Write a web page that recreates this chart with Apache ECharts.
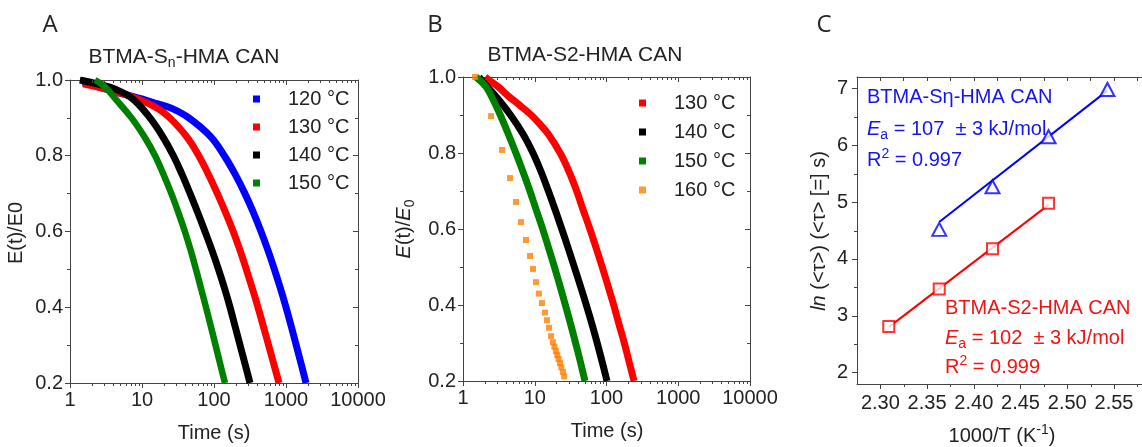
<!DOCTYPE html>
<html><head><meta charset="utf-8">
<script src="https://cdn.jsdelivr.net/npm/echarts@6/dist/echarts.min.js"></script>
<style>html,body{margin:0;padding:0;background:#fff}#c{width:1142px;height:447px}</style>
</head><body><div id="c"></div>
<script>
const F = "'Liberation Sans', Arial, Helvetica, sans-serif";

// ---- Panel A: BTMA-Sn-HMA CAN  (time in s, E(t)/E0)
const tA120 = [1.515, 3.24, 5.68, 9.94, 16.1, 25.9, 44.7, 90.3, 139, 198, 269, 353, 450, 562, 690, 836, 1000, 1181, 1386, 1626, 1896];
const eA120 = [0.995, 0.975, 0.9625, 0.95, 0.9375, 0.925, 0.9, 0.85, 0.8, 0.75, 0.7, 0.65, 0.6, 0.55, 0.5, 0.45, 0.4, 0.35, 0.3, 0.25, 0.2];
const tA130 = [1.515, 3.35, 8.74, 16.6, 24.3, 41.9, 61.5, 84.1, 111.5, 145, 185, 230, 281, 340, 408, 484, 573, 677, 800];
const eA130 = [0.99, 0.975, 0.95, 0.925, 0.9, 0.85, 0.8, 0.75, 0.7, 0.65, 0.6, 0.55, 0.5, 0.45, 0.4, 0.35, 0.3, 0.25, 0.2];
const tA140 = [1.37, 2.37, 4.34, 7.47, 12.9, 19.5, 27.3, 36.1, 46.6, 59.4, 75.0, 93.8, 115.5, 140, 167, 196, 230, 270, 316];
const eA140 = [1.0, 0.99, 0.975, 0.95, 0.9, 0.85, 0.8, 0.75, 0.7, 0.65, 0.6, 0.55, 0.5, 0.45, 0.4, 0.35, 0.3, 0.25, 0.2];
const tA150 = [2.22, 2.70, 3.32, 4.28, 7.15, 10.8, 15.2, 19.95, 25.6, 32.0, 39.4, 47.5, 56.2, 66.0, 77.4, 90.3, 105, 122, 142];
const eA150 = [1.0, 0.99, 0.975, 0.95, 0.9, 0.85, 0.8, 0.75, 0.7, 0.65, 0.6, 0.55, 0.5, 0.45, 0.4, 0.35, 0.3, 0.25, 0.2];

// ---- Panel B: BTMA-S2-HMA CAN
const tB130 = [2.03, 2.38, 3.07, 4.27, 6.23, 8.92, 11.8, 15.4, 22.6, 30.2, 38.4, 47.3, 58.7, 71.8, 87.1, 105, 126, 149, 177, 207, 242];
const eB130 = [1.0, 0.99, 0.975, 0.95, 0.925, 0.9, 0.876, 0.85, 0.8, 0.75, 0.7, 0.65, 0.6, 0.55, 0.5, 0.45, 0.4, 0.35, 0.3, 0.25, 0.2];
const tB140 = [1.67, 2.16, 2.84, 4.59, 6.86, 9.45, 12.3, 15.5, 19.3, 23.8, 29.2, 35.6, 43.3, 52.3, 62.6, 74.2, 87.1, 101.6];
const eB140 = [1.0, 0.975, 0.95, 0.9, 0.85, 0.8, 0.75, 0.7, 0.65, 0.6, 0.55, 0.5, 0.45, 0.4, 0.35, 0.3, 0.25, 0.2];
const tB150 = [1.52, 2.08, 2.48, 3.31, 4.28, 5.46, 6.88, 8.56, 10.5, 12.9, 15.6, 18.8, 22.5, 26.7, 31.6, 37.1, 43.3, 50.1];
const eB150 = [1.0, 0.975, 0.95, 0.9, 0.85, 0.8, 0.75, 0.7, 0.65, 0.6, 0.55, 0.5, 0.45, 0.4, 0.35, 0.3, 0.25, 0.2];
const tB160 = [1.47, 2.46, 3.5, 4.52, 5.48, 6.43, 7.55, 8.6, 9.45, 10.4, 11.4, 12.6, 13.9, 14.8, 15.8, 16.9, 17.9, 18.8, 19.7, 20.6, 21.5, 22.5, 23.5, 24.7, 25.7];
const eB160 = [1.0, 0.897, 0.808, 0.734, 0.671, 0.618, 0.571, 0.529, 0.495, 0.46, 0.43, 0.405, 0.38, 0.36, 0.34, 0.318, 0.302, 0.29, 0.279, 0.268, 0.258, 0.247, 0.236, 0.224, 0.212];

// ---- Panel C: Arrhenius plot
const cSnX = [2.363, 2.420, 2.480, 2.543];
const cSnY = [4.52, 5.27, 6.15, 6.98];
const cSnFitX = [2.363, 2.543];
const cSnFitY = [4.65, 6.96];
const cS2X = [2.309, 2.363, 2.420, 2.480];
const cS2Y = [2.81, 3.47, 4.18, 4.98];
const cS2FitX = [2.309, 2.480];
const cS2FitY = [2.80, 4.95];

// tick labels / positions
const cXMajor = [2.30, 2.35, 2.40, 2.45, 2.50, 2.55];
const cXMinor = [2.325, 2.375, 2.425, 2.475, 2.525, 2.575];
const cXTop = [2.30, 2.325, 2.35, 2.375, 2.40, 2.425, 2.45, 2.475, 2.50, 2.525, 2.55, 2.575];
const cYMajor = [2, 3, 4, 5, 6, 7];
const cYMinor = [2.5, 3.5, 4.5, 5.5, 6.5];
const logMinor = [];
[1, 10, 100, 1000].forEach(d => { for (let k = 2; k <= 9; k++) logMinor.push(d * k); });

const AX = '#444', TX = '#222';
const lbl = {fontSize: 20, fontFamily: F, color: TX};

function logX(gi, pos) {
  const top = pos === 'top';
  return {type: 'log', logBase: 10, gridIndex: gi, min: 1, max: 10000, position: pos, splitNumber: 4,
    axisLine: {show: true, lineStyle: {color: AX, width: 1}},
    axisTick: {show: true, inside: top, length: 5, lineStyle: {color: AX}},
    axisLabel: Object.assign({show: !top, margin: 7, formatter: v => String(Math.round(v))}, lbl),
    splitLine: {show: false}, minorTick: {show: false}, minorSplitLine: {show: false}};
}
function valY(gi, pos) {
  const right = pos === 'right';
  return {type: 'value', gridIndex: gi, min: 0.2, max: 1.0, interval: 0.2, position: pos,
    axisLine: {show: true, lineStyle: {color: AX, width: 1}},
    axisTick: {show: true, inside: right, length: 5, lineStyle: {color: AX}},
    minorTick: {show: true, splitNumber: 2, length: 3, lineStyle: {color: AX}},
    axisLabel: Object.assign({show: !right, margin: 7, formatter: v => v.toFixed(1)}, lbl),
    splitLine: {show: false}, minorSplitLine: {show: false}};
}

function band(name, t, e, color, gi, w) {
  return {type: 'line', name, xAxisIndex: gi * 2, yAxisIndex: gi * 2,
    data: t.map((v, i) => [v, e[i]]), symbol: 'none', showSymbol: false,
    smooth: 0.4,
    color, itemStyle: {color}, lineStyle: {color, width: w, cap: 'butt', join: 'round'},
    silent: true, z: 2};
}

// minor tick drawer through the axes' own scales
function tickSeries(gi, items, ext) {
  return {type: 'custom', xAxisIndex: gi * 2, yAxisIndex: gi * 2, clip: false, silent: true, z: 6,
    data: items,
    renderItem(params, api) {
      const v = api.value(0), k = api.value(1), L = 3;
      const st = {stroke: AX, lineWidth: 1};
      const ch = [];
      if (k === 0 || k === 1) {
        const b = api.coord([v, ext.y0]), t = api.coord([v, ext.y1]);
        const px = Math.round(b[0]) + 0.5;
        ch.push({type: 'line', shape: {x1: px, y1: b[1], x2: px, y2: b[1] + L}, style: st});
        if (k === 0) ch.push({type: 'line', shape: {x1: px, y1: t[1], x2: px, y2: t[1] + L}, style: st});
      } else {
        const l = api.coord([ext.x0, v]);
        const py = Math.round(l[1]) + 0.5;
        ch.push({type: 'line', shape: {x1: l[0], y1: py, x2: l[0] - L, y2: py}, style: st});
      }
      return {type: 'group', children: ch};
    }};
}

function rich(color, fs) {
  fs = fs || 20;
  return {
    n: {fontSize: fs, fontFamily: F, lineHeight: 26, fill: color},
    i: {fontSize: fs, fontFamily: F, fontStyle: 'italic', lineHeight: 26, fill: color},
    sub: {fontSize: 14, fontFamily: F, lineHeight: 12, verticalAlign: 'bottom', fill: color},
    sup: {fontSize: 14, fontFamily: F, lineHeight: 12, verticalAlign: 'top', fill: color}
  };
}
function txt(x, y, text, color, opts) {
  opts = opts || {};
  return {type: 'text', x, y, rotation: opts.rot || 0, silent: true,
    style: {text, rich: rich(color, opts.fs), align: opts.align || 'left', verticalAlign: 'middle',
      fill: color, font: (opts.font || '20px ' + F)}};
}

const BLUE = '#0000ff', RED = '#ff0000', BLK = '#000000', GRN = '#008000', ORG = '#ff8000';
const CB = '#1414f0', CR = '#f01414';
const LETTER = "24px 'Open Sans', sans-serif";

const legendBase = {orient: 'vertical', padding: 0, itemWidth: 7, itemHeight: 7, icon: 'rect', selectedMode: false,
  textStyle: {fontSize: 20, fontFamily: F, color: TX, lineHeight: 20, padding: [0, 0, 0, 23]}};

const option = {
  animation: false,
  backgroundColor: '#fff',
  grid: [
    {left: 70, top: 80, width: 288, height: 303},
    {left: 463, top: 77, width: 287, height: 304},
    {left: 857, top: 77, width: 296, height: 307}
  ],
  xAxis: [
    logX(0, 'bottom'), logX(0, 'top'), logX(1, 'bottom'), logX(1, 'top'),
    {type: 'value', gridIndex: 2, min: 2.275, max: 2.58, position: 'bottom',
      axisLine: {show: true, lineStyle: {color: AX}},
      axisTick: {show: true, length: 5, customValues: cXMajor, lineStyle: {color: AX}},
      axisLabel: Object.assign({margin: 9, customValues: cXMajor, formatter: v => Number(v).toFixed(2)}, lbl),
      splitLine: {show: false}},
    {type: 'value', gridIndex: 2, min: 2.275, max: 2.58, position: 'top',
      axisLine: {show: true, lineStyle: {color: AX}},
      axisTick: {show: true, inside: true, length: 4, customValues: cXTop, lineStyle: {color: AX}},
      axisLabel: {show: false}, splitLine: {show: false}}
  ],
  yAxis: [
    valY(0, 'left'), valY(0, 'right'), valY(1, 'left'), valY(1, 'right'),
    {type: 'value', gridIndex: 2, min: 1.8, max: 7.2, position: 'left',
      axisLine: {show: true, lineStyle: {color: AX}},
      axisTick: {show: true, length: 5, customValues: cYMajor, lineStyle: {color: AX}},
      axisLabel: Object.assign({margin: 9, customValues: cYMajor, formatter: v => String(Math.round(v))}, lbl),
      splitLine: {show: false}}
  ],
  legend: [
    Object.assign({data: ['120 °C', '130 °C', '140 °C', '150 °C'], left: 253, top: 89, itemGap: 8}, legendBase),
    Object.assign({data: ['130 °C', '140 °C', '150 °C', '160 °C'], left: 639, top: 93, itemGap: 9}, legendBase)
  ],
  series: [
    band('120 °C', tA120, eA120, BLUE, 0, 7),
    band('130 °C', tA130, eA130, RED, 0, 7),
    band('140 °C', tA140, eA140, BLK, 0, 7),
    band('150 °C', tA150, eA150, GRN, 0, 6.5),
    band('130 °C', tB130, eB130, RED, 1, 7),
    band('140 °C', tB140, eB140, BLK, 1, 7),
    band('150 °C', tB150, eB150, GRN, 1, 7),
    {type: 'scatter', name: '160 °C', xAxisIndex: 2, yAxisIndex: 2, symbol: 'rect', symbolSize: 6,
      itemStyle: {color: ORG}, data: tB160.map((v, i) => [v, eB160[i]]), silent: true, z: 3},
    {type: 'line', name: 'fitSn', xAxisIndex: 4, yAxisIndex: 4, data: cSnFitX.map((v, i) => [v, cSnFitY[i]]),
      symbol: 'none', lineStyle: {color: BLUE, width: 2}, silent: true, z: 2},
    {type: 'line', name: 'fitS2', xAxisIndex: 4, yAxisIndex: 4, data: cS2FitX.map((v, i) => [v, cS2FitY[i]]),
      symbol: 'none', lineStyle: {color: RED, width: 2}, silent: true, z: 2},
    {type: 'scatter', name: 'Sn', xAxisIndex: 4, yAxisIndex: 4, symbol: 'triangle', symbolSize: [14, 13],
      itemStyle: {color: '#fff', borderColor: BLUE, borderWidth: 2}, data: cSnX.map((v, i) => [v, cSnY[i]]), silent: true, z: 3},
    {type: 'scatter', name: 'S2', xAxisIndex: 4, yAxisIndex: 4, symbol: 'rect', symbolSize: 11,
      itemStyle: {color: '#fff', borderColor: RED, borderWidth: 2}, data: cS2X.map((v, i) => [v, cS2Y[i]]), silent: true, z: 3},
    tickSeries(0, logMinor.map(v => [v, 0]), {y0: 0.2, y1: 1.0}),
    tickSeries(1, logMinor.map(v => [v, 0]), {y0: 0.2, y1: 1.0}),
    tickSeries(2, cXMinor.map(v => [v, 1]).concat(cYMinor.map(v => [v, 2])), {y0: 1.8, y1: 7.2, x0: 2.275})
  ],
  graphic: [
    txt(50, 25, 'A', TX, {align: 'center', font: LETTER}),
    txt(435, 25, 'B', TX, {align: 'center', font: LETTER}),
    txt(824, 25, 'C', TX, {align: 'center', font: LETTER}),
    txt(184, 57, '{n|BTMA-S}{sub|n}{n|-HMA CAN}', TX, {align: 'center', fs: 21}),
    txt(585, 55, '{n|BTMA-S2-HMA CAN}', TX, {align: 'center', fs: 21}),
    txt(214, 433, '{n|Time (s)}', TX, {align: 'center'}),
    txt(607, 431, '{n|Time (s)}', TX, {align: 'center'}),
    txt(16, 233, '{n|E(t)/E0}', TX, {align: 'center', rot: Math.PI / 2}),
    txt(404, 229, '{i|E}{n|(t)/}{i|E}{sub|0}', TX, {align: 'center', rot: Math.PI / 2}),
    txt(819, 231, '{i|ln}{n| (<τ>) (<τ> [=] s)}', TX, {align: 'center', rot: Math.PI / 2}),
    txt(1002, 436, '{n|1000/T (K}{sup|-1}{n|)}', TX, {align: 'center'}),
    txt(867, 97, '{n|BTMA-Sη-HMA CAN}', CB),
    txt(867, 129, '{i|E}{sub|a}{n| = 107  ± 3 kJ/mol}', CB),
    txt(867, 160, '{n|R}{sup|2}{n| = 0.997}', CB),
    txt(945, 308, '{n|BTMA-S2-HMA CAN}', CR),
    txt(945, 338, '{i|E}{sub|a}{n| = 102  ± 3 kJ/mol}', CR),
    txt(945, 367, '{n|R}{sup|2}{n| = 0.999}', CR)
  ]
};

const chart = echarts.init(document.getElementById('c'), null, {renderer: 'canvas', width: 1142, height: 447});
chart.setOption(option);
</script>
</body></html>
